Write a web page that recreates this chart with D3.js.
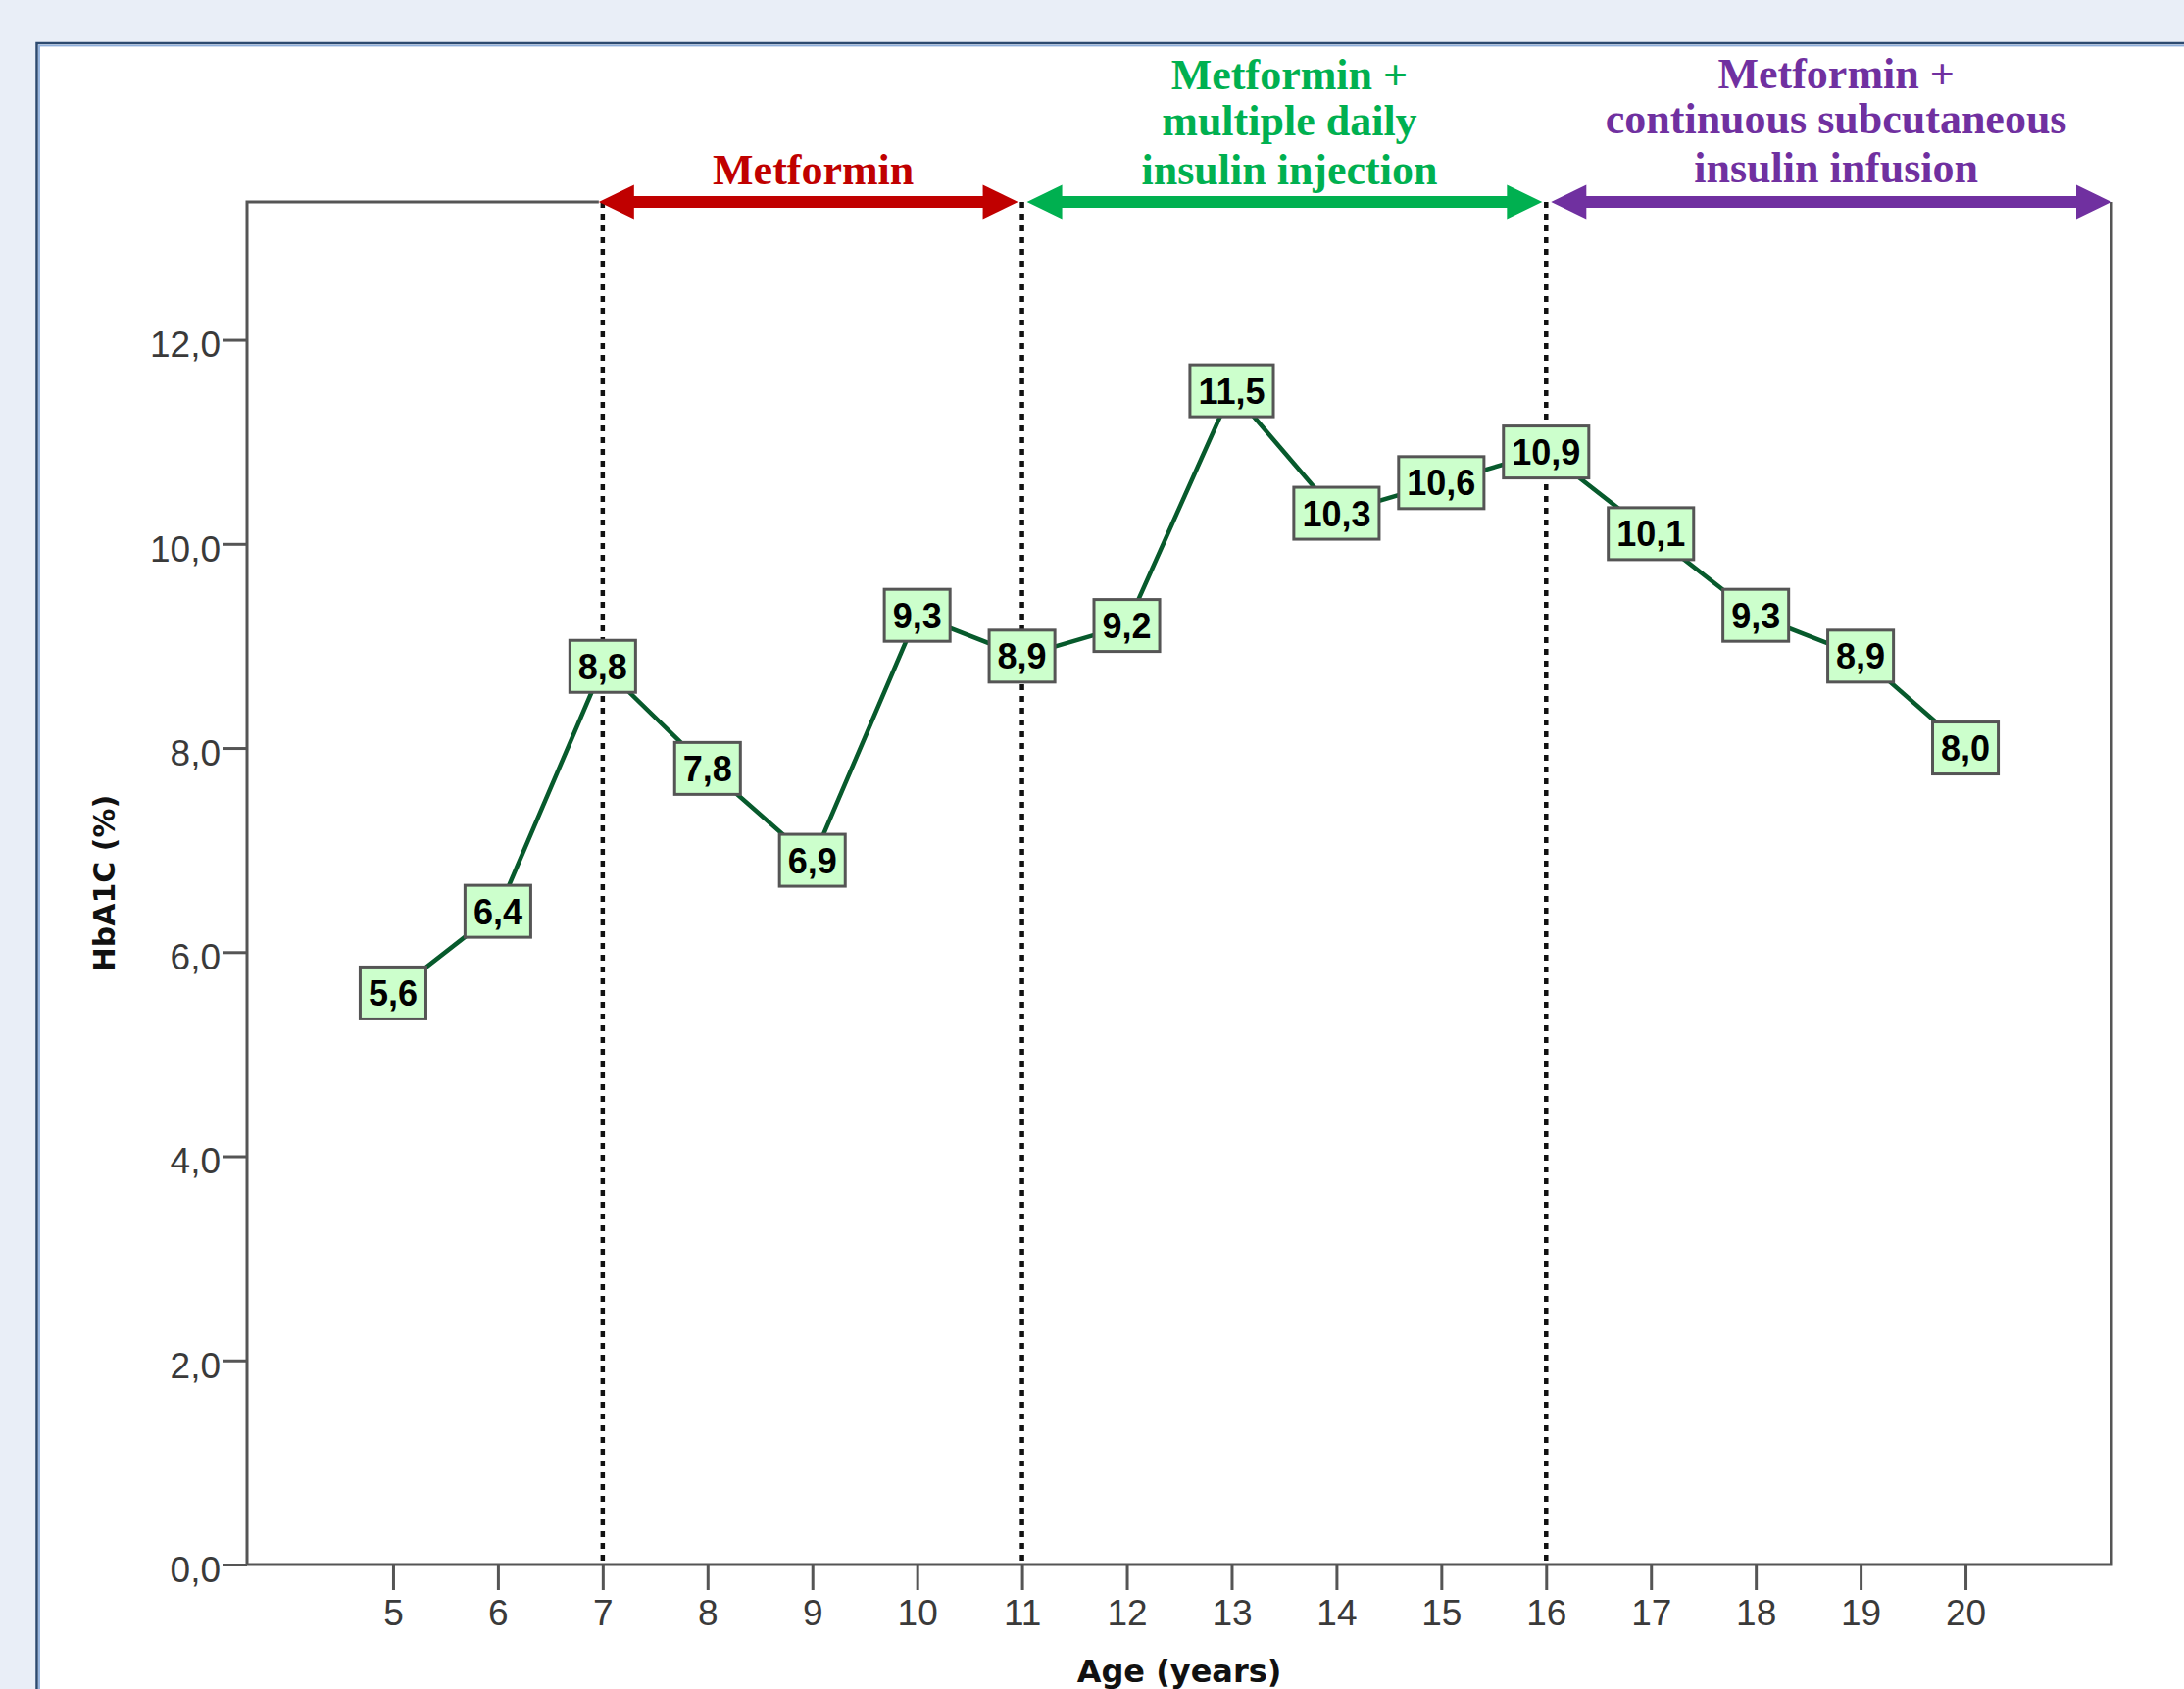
<!DOCTYPE html>
<html>
<head>
<meta charset="utf-8">
<script src="https://cdn.jsdelivr.net/npm/d3@7"></script>
<style>
  html, body { margin: 0; padding: 0; background: #e9eef7; }
  svg { display: block; }
</style>
</head>
<body>
<svg id="chart" width="2228" height="1723"></svg>
<script>
// ---- data ----
const ages = [5, 6, 7, 8, 9, 10, 11, 12, 13, 14, 15, 16, 17, 18, 19, 20];
const hba1c = [5.6, 6.4, 8.8, 7.8, 6.9, 9.3, 8.9, 9.2, 11.5, 10.3, 10.6, 10.9, 10.1, 9.3, 8.9, 8.0];
const yTicks = [0, 2, 4, 6, 8, 10, 12];
const xTicks = [5, 6, 7, 8, 9, 10, 11, 12, 13, 14, 15, 16, 17, 18, 19, 20];
const phaseStart = [7, 11, 16];
const phaseEnd = [11, 16, null]; // null = runs to the right edge of the plot
const phaseLabels = [
  ["Metformin"],
  ["Metformin +", "multiple daily", "insulin injection"],
  ["Metformin +", "continuous subcutaneous", "insulin infusion"]
];
const phaseColors = ["#c00000", "#00b050", "#7030a0"];
const xTitle = "Age (years)";
const yTitle = "HbA1C (%)";

// ---- layout ----
const svg = d3.select("#chart");
const plot = { left: 252, right: 2154, top: 206, bottom: 1596 };
const xDomain = [3.607, 21.393];
const yDomain = [0, 13.35];
const x = d3.scaleLinear().domain(xDomain).range([plot.left, plot.right]);
const y = d3.scaleLinear().domain(yDomain).range([plot.bottom, plot.top]);
const fmt = v => d3.format(".1f")(v).replace(".", ",");

// panel
svg.append("rect").attr("x", 37.5).attr("y", 44).attr("width", 2400).attr("height", 2000)
  .attr("fill", "#ffffff").attr("stroke", "#2d4a70").attr("stroke-width", 2.5);
svg.append("rect").attr("x", 40).attr("y", 46.5).attr("width", 2400).attr("height", 2000)
  .attr("fill", "none").attr("stroke", "#8eaedb").attr("stroke-width", 1.8);

// dotted phase separators
svg.append("g").selectAll("line").data(phaseStart).join("line")
  .attr("x1", d => x(d)).attr("x2", d => x(d))
  .attr("y1", plot.top).attr("y2", plot.bottom)
  .attr("stroke", "#111").attr("stroke-width", 4.5)
  .attr("stroke-dasharray", "6,6");

// frame (left, bottom, right, top until first arrow)
const frame = svg.append("g").attr("stroke", "#555").attr("stroke-width", 3).attr("fill", "none");
frame.append("path").attr("d",
  `M${x(phaseStart[0]) - 4},${plot.top} H${plot.left} V${plot.bottom} H${plot.right} V${plot.top}`);

// axes
const yAxis = d3.axisLeft(y).tickValues(yTicks).tickFormat(fmt).tickSize(24).tickPadding(3);
const gy = svg.append("g").attr("transform", `translate(${plot.left},0)`).call(yAxis);
gy.select(".domain").remove();
gy.selectAll(".tick line").attr("stroke", "#555").attr("stroke-width", 3);
gy.selectAll(".tick text").attr("font-family", "'Liberation Sans', Arial, sans-serif")
  .attr("font-size", 37).attr("fill", "#3a3a3a").attr("dy", "0.47em");

const xAxis = d3.axisBottom(x).tickValues(xTicks).tickFormat(d3.format("d")).tickSize(26).tickPadding(10);
const gx = svg.append("g").attr("transform", `translate(0,${plot.bottom})`).call(xAxis);
gx.select(".domain").remove();
gx.selectAll(".tick line").attr("stroke", "#555").attr("stroke-width", 3);
gx.selectAll(".tick text").attr("font-family", "'Liberation Sans', Arial, sans-serif")
  .attr("font-size", 37).attr("fill", "#3a3a3a");

// axis titles
svg.append("text").attr("x", (plot.left + plot.right) / 2).attr("y", 1716)
  .attr("text-anchor", "middle").attr("font-family", "'DejaVu Sans', sans-serif")
  .attr("font-weight", "bold").attr("font-size", 32).attr("fill", "#111").text(xTitle);
svg.append("text").attr("transform", `translate(117,${(plot.top + plot.bottom) / 2}) rotate(-90)`)
  .attr("text-anchor", "middle").attr("font-family", "'DejaVu Sans', sans-serif")
  .attr("font-weight", "bold").attr("font-size", 30).attr("fill", "#111").text(yTitle);

// phase arrows
const headLen = 36, headHalf = 17.5, shaft = 12;
const ay = plot.top;
phaseStart.forEach((s, i) => {
  const x1 = i === 0 ? x(s) - 4 : x(s) + 5;
  const x2 = phaseEnd[i] === null ? plot.right : x(phaseEnd[i]) - 4;
  const g = svg.append("g").attr("fill", phaseColors[i]);
  g.append("rect").attr("x", x1 + headLen - 2).attr("y", ay - shaft / 2)
    .attr("width", x2 - x1 - 2 * headLen + 4).attr("height", shaft);
  g.append("path").attr("d", `M${x1},${ay} L${x1 + headLen},${ay - headHalf} L${x1 + headLen},${ay + headHalf} Z`);
  g.append("path").attr("d", `M${x2},${ay} L${x2 - headLen},${ay - headHalf} L${x2 - headLen},${ay + headHalf} Z`);

  const cx = (x1 + x2) / 2 + 5;
  const lines = phaseLabels[i];
  const baselines = lines.length === 1 ? [188] : (i === 1 ? [91, 138, 188] : [90, 136, 186]);
  lines.forEach((ln, j) => {
    svg.append("text").attr("text-anchor", "middle")
      .attr("font-family", "'Liberation Serif', 'Times New Roman', serif")
      .attr("font-weight", "bold").attr("font-size", 44).attr("fill", phaseColors[i])
      .attr("x", cx).attr("y", baselines[j]).text(ln);
  });
});

// data line
const pts = ages.map((a, i) => [a, hba1c[i]]);
svg.append("path").datum(pts)
  .attr("d", d3.line().x(d => x(d[0])).y(d => y(d[1])))
  .attr("fill", "none").attr("stroke", "#075a2c").attr("stroke-width", 4.5)
  .attr("stroke-linejoin", "round");

// value labels
const lab = svg.append("g").selectAll("g").data(pts).join("g")
  .attr("transform", d => `translate(${x(d[0])},${y(d[1])})`);
const rects = lab.append("rect");
const texts = lab.append("text").attr("text-anchor", "middle")
  .attr("font-family", "'Liberation Sans', Arial, sans-serif")
  .attr("font-weight", "bold").attr("font-size", 36).attr("fill", "#000")
  .attr("y", 13).text(d => fmt(d[1]));
texts.each(function(d, i) {
  const w = this.getComputedTextLength() + 17;
  d3.select(rects.nodes()[i])
    .attr("x", -w / 2).attr("y", -26.5).attr("width", w).attr("height", 53)
    .attr("fill", "#ccffcc").attr("stroke", "#555").attr("stroke-width", 3);
});
</script>
</body>
</html>
